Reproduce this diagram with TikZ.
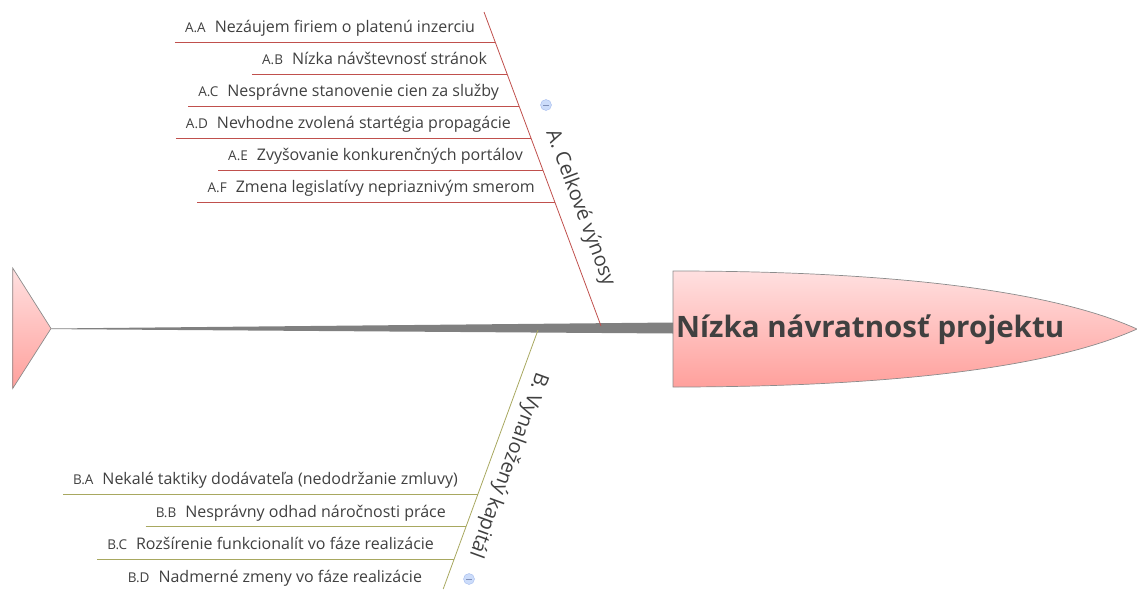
\documentclass[tikz,border=0pt]{standalone}
\usepackage{fontspec}
\setmainfont{Open Sans}
\definecolor{textgray}{HTML}{404040}
\definecolor{lineA}{HTML}{C0504D}
\definecolor{lineB}{HTML}{A8A860}
\definecolor{spinegray}{HTML}{808080}
\definecolor{pinktop}{HTML}{FFE0E0}
\definecolor{pinkbot}{HTML}{FFA09C}
\definecolor{bordergray}{HTML}{8C8C8C}
\definecolor{iconfill}{HTML}{CCDCFA}
\definecolor{icondraw}{HTML}{A4BCEE}
\definecolor{iconminus}{HTML}{8090B8}
\begin{document}
\begin{tikzpicture}[x=1pt,y=-1pt,
  subtxt/.style={text=textgray, inner xsep=10pt, inner ysep=0pt, anchor=base east,
    font=\fontsize{16}{19}\selectfont},
  sublineA/.style={draw=lineA, line width=0.8pt},
  sublineB/.style={draw=lineB, line width=0.8pt},
  bonelab/.style={text=textgray, inner sep=0pt, font=\fontsize{20}{24}\selectfont},
  minusicon/.style={circle, draw=icondraw, fill=iconfill, minimum size=11pt, inner sep=0pt,
    path picture={\draw[iconminus, line width=0.9pt] ([xshift=-3pt]path picture bounding box.center) -- ([xshift=3pt]path picture bounding box.center);}},
  fishshade/.style={top color=pinktop, bottom color=pinkbot, draw=bordergray, line width=0.7pt}
]
\newcommand{\lab}[1]{{\fontsize{13.5}{16}\selectfont #1}\hspace{9pt}}
\useasboundingbox (0,0) rectangle (1137,589);

% tail and head shapes
\coordinate (tailtip) at (51,328.5);
\coordinate (headleft) at (673,328);
\path[fishshade] (12.7,268) -- (tailtip) -- (12.7,388.5) -- cycle;
\path[fishshade] (673,271) .. controls (900,271) and (1055,292) .. (1137,329)
  .. controls (1055,366) and (900,387) .. (673,387) -- cycle;

% spine
\fill[spinegray] (tailtip) -- ([yshift=5.5pt]headleft) -- ([yshift=-5.5pt]headleft) -- ([yshift=-0.6pt]tailtip) -- cycle;

\node[font=\fontsize{29.5}{34}\selectfont\bfseries, text=textgray, anchor=base west, inner sep=0pt]
  (head) at (676,337.5) {Nízka návratnosť projektu};

% branch A
\coordinate (Atop) at (484,12);
\coordinate (Abase) at (601,326);
\draw[sublineA] (Atop) -- (Abase);
\node[bonelab, rotate=-69.4] (labA) at (580,208) {A. Celkové výnosy};
\node[minusicon] (iconA) at (546,105) {};

\coordinate (aA) at (495.2,42);
\coordinate (aB) at (507.2,74);
\coordinate (aC) at (519.1,106);
\coordinate (aD) at (531.1,138);
\coordinate (aE) at (543.0,170);
\coordinate (aF) at (555.0,202);

\node[subtxt] (tAA) at ([shift={(-10pt,9.5pt)}]aA) {\lab{A.A}Nezáujem firiem o platenú inzerciu};
\node[subtxt] (tAB) at ([shift={(-10pt,9.5pt)}]aB) {\lab{A.B}Nízka návštevnosť stránok};
\node[subtxt] (tAC) at ([shift={(-10pt,9.5pt)}]aC) {\lab{A.C}Nesprávne stanovenie cien za služby};
\node[subtxt] (tAD) at ([shift={(-10pt,9.5pt)}]aD) {\lab{A.D}Nevhodne zvolená startégia propagácie};
\node[subtxt] (tAE) at ([shift={(-10pt,9.5pt)}]aE) {\lab{A.E}Zvyšovanie konkurenčných portálov};
\node[subtxt] (tAF) at ([shift={(-10pt,9.5pt)}]aF) {\lab{A.F}Zmena legislatívy nepriaznivým smerom};

\foreach \n/\c in {tAA/aA,tAB/aB,tAC/aC,tAD/aD,tAE/aE,tAF/aF}
  \draw[sublineA] (\n.west |- \c) -- (\c);

% branch B
\coordinate (Bbase) at (538,330);
\coordinate (Bend) at (443.2,589);
\draw[sublineB] (Bbase) -- (Bend);
\node[bonelab, rotate=-110.1] (labB) at (508,465) {B. Vynaložený kapitál};
\node[minusicon] (iconB) at (469,579) {};

\coordinate (bA) at (478.0,494);
\coordinate (bB) at (466.0,526.5);
\coordinate (bC) at (454.1,559);
\coordinate (bD) at (442.2,591.5);

\node[subtxt] (tBA) at ([shift={(-10pt,9.5pt)}]bA) {\lab{B.A}Nekalé taktiky dodávateľa (nedodržanie zmluvy)};
\node[subtxt] (tBB) at ([shift={(-10pt,9.5pt)}]bB) {\lab{B.B}Nesprávny odhad náročnosti práce};
\node[subtxt] (tBC) at ([shift={(-10pt,9.5pt)}]bC) {\lab{B.C}Rozšírenie funkcionalít vo fáze realizácie};
\node[subtxt] (tBD) at ([shift={(-10pt,9.5pt)}]bD) {\lab{B.D}Nadmerné zmeny vo fáze realizácie};

\foreach \n/\c in {tBA/bA,tBB/bB,tBC/bC}
  \draw[sublineB] (\n.west |- \c) -- (\c);
\end{tikzpicture}
\end{document}
